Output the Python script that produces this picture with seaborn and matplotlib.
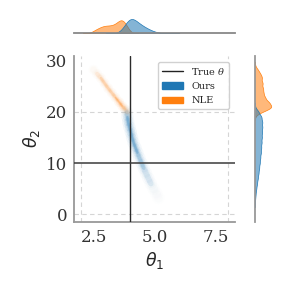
import matplotlib
matplotlib.use("Agg")
import matplotlib.pyplot as plt
import seaborn as sns
import pandas as pd
from matplotlib.lines import Line2D
from matplotlib.patches import Patch
from matplotlib.font_manager import FontProperties

# ---------------- data ----------------
ours_theta1 = [3.86, 3.89, 3.92, 3.97, 4.03, 4.08, 4.14, 4.22, 4.30, 4.38,
               4.47, 4.56, 4.65, 4.75, 4.85, 4.96, 5.08, 5.16]
ours_theta2 = [20.0, 19.0, 18.0, 17.0, 16.0, 15.0, 14.0, 13.0, 12.0, 11.0,
               10.0, 9.0, 8.0, 7.0, 6.0, 5.0, 4.0, 3.2]
ours_weight = [0.5, 0.9, 1.0, 1.0, 0.97, 0.93, 0.9, 0.85, 0.8, 0.72,
               0.65, 0.57, 0.48, 0.38, 0.28, 0.18, 0.08, 0.03]

nle_theta1 = [2.50, 2.65, 2.80, 2.95, 3.10, 3.25, 3.40, 3.55, 3.68, 3.80, 3.90]
nle_theta2 = [28.2, 27.4, 26.6, 25.6, 24.6, 23.7, 22.8, 21.9, 21.1, 20.5, 19.9]
nle_weight = [0.2, 0.35, 0.5, 0.6, 0.6, 0.6, 0.72, 0.95, 1.0, 0.65, 0.3]

true_theta = [4.0, 10.0]
prior_x = [2.0, 8.0]
prior_y = [0.0, 20.0]
x_ticks = [2.5, 5.0, 7.5]
y_ticks = [0, 10, 20, 30]
legend_labels = [r"True $\theta$", "Ours", "NLE"]

BLUE = "#1f77b4"
ORANGE = "#ff7f0e"

# ---------------- style ----------------
sns.set_theme(style="white")
plt.rcParams["font.family"] = ["DejaVu Serif", "DejaVu Sans"]
plt.rcParams["mathtext.fontset"] = "dejavusans"

W = 291.0
fig = plt.figure(figsize=(2.91, 2.91), dpi=100)
ax = fig.add_axes([74 / W, 1 - 221.7 / W, 161 / W, 165.7 / W])
ax_top = fig.add_axes([74 / W, 1 - 33.3 / W, 161 / W, 15.0 / W], sharex=ax)
ax_right = fig.add_axes([255 / W, 1 - 221.7 / W, 17.0 / W, 165.7 / W], sharey=ax)

ours = pd.DataFrame({"theta1": ours_theta1, "theta2": ours_theta2, "weight": ours_weight})
nle = pd.DataFrame({"theta1": nle_theta1, "theta2": nle_theta2, "weight": nle_weight})

# prior box dashed lines
for xv in prior_x:
    ax.axvline(xv, color="#d5d5d5", ls=(0, (4, 3)), lw=0.8, zorder=0)
for yv in prior_y:
    ax.axhline(yv, color="#d5d5d5", ls=(0, (4, 3)), lw=0.8, zorder=0)

# main hazy bands: soft halo of overlapping markers + continuous core lines
for df, col, layers, cores in [
        (ours, BLUE, [(80, 0.05), (40, 0.09)], [(0.25, 4.0, 0.10), (0.5, 2.6, 0.18), (0.75, 1.6, 0.25)]),
        (nle, ORANGE, [(50, 0.05), (24, 0.09)], [(0.25, 3.0, 0.10), (0.5, 1.8, 0.18), (0.7, 1.0, 0.25)])]:
    cmap = sns.light_palette(col, as_cmap=True)
    for s, a in layers:
        sns.scatterplot(data=df, x="theta1", y="theta2", hue="weight",
                        palette=cmap, hue_norm=(0, 1), s=s, alpha=a,
                        linewidth=0, legend=False, ax=ax, zorder=2)
    for thr, lw, a in cores:
        sub = df[df["weight"] >= thr]
        sns.lineplot(data=sub, x="theta1", y="theta2", sort=False, estimator=None,
                     color=col, lw=lw, alpha=a, ax=ax, zorder=2,
                     solid_capstyle="round")

ax.axvline(true_theta[0], color="#2b2b2b", lw=1.0, zorder=3)
ax.axhline(true_theta[1], color="#3a3a3a", lw=1.1, zorder=3)

# marginals
sns.kdeplot(data=nle, x="theta1", weights="weight", ax=ax_top, fill=True,
            color=ORANGE, alpha=0.55, linewidth=0.5, bw_adjust=0.5)
sns.kdeplot(data=ours, x="theta1", weights="weight", ax=ax_top, fill=True,
            color=BLUE, alpha=0.55, linewidth=0.5, bw_adjust=1.2)
sns.kdeplot(data=nle, y="theta2", weights="weight", ax=ax_right, fill=True,
            color=ORANGE, alpha=0.55, linewidth=0.5, bw_adjust=0.3)
sns.kdeplot(data=ours, y="theta2", weights="weight", ax=ax_right, fill=True,
            color=BLUE, alpha=0.55, linewidth=0.5, bw_adjust=0.2)

# axes limits / ticks
ax.set_xticks(x_ticks)
ax.set_yticks(y_ticks)
ax.tick_params(axis="both", length=0, labelsize=12, colors="#333333", pad=5)
ax.set_xlabel(r"$\theta_1$", fontsize=12.5, labelpad=3)
ax.set_ylabel(r"$\theta_2$", fontsize=12.5, labelpad=3)
for side in ["top", "right"]:
    ax.spines[side].set_visible(False)
for side in ["left", "bottom"]:
    ax.spines[side].set_color("#999999")
    ax.spines[side].set_linewidth(1.3)

ax_top.set_ylim(bottom=0)
ax_top.set_xlabel("")
ax_top.set_ylabel("")
ax_top.set_yticks([])
ax_top.tick_params(labelbottom=False, bottom=False, length=0)
for side in ["top", "right", "left"]:
    ax_top.spines[side].set_visible(False)
ax_top.spines["bottom"].set_color("#888888")
ax_top.spines["bottom"].set_linewidth(1.3)

ax_right.set_xlim(left=0)
ax_right.set_xlabel("")
ax_right.set_ylabel("")
ax_right.set_xticks([])
ax_right.tick_params(labelleft=False, left=False, length=0)
for side in ["top", "right", "bottom"]:
    ax_right.spines[side].set_visible(False)
ax_right.spines["left"].set_color("#999999")
ax_right.spines["left"].set_linewidth(1.3)

ax.set_xlim(1.7, 8.3)
ax.set_ylim(-1.45, 30.9)

handles = [Line2D([], [], color="#222222", lw=1.0),
           Patch(facecolor=BLUE, edgecolor=BLUE),
           Patch(facecolor=ORANGE, edgecolor=ORANGE)]
ax.legend(handles, legend_labels, loc="upper right",
          prop=FontProperties(family="DejaVu Serif", size=7, math_fontfamily="dejavuserif"),
          frameon=True, fancybox=True, framealpha=0.9, edgecolor="#cccccc",
          borderaxespad=0.6, labelspacing=0.55, handlelength=2.2)

fig.savefig("out.png", dpi=100)
